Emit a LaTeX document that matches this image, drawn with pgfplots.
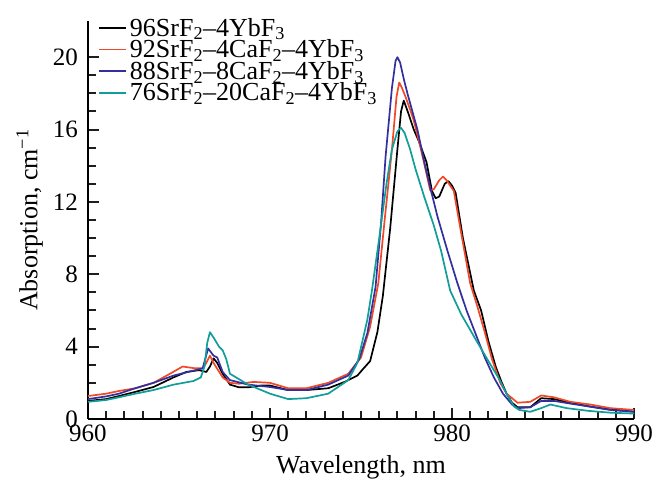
\documentclass[border=0pt]{standalone}
\usepackage{fontspec}
\setmainfont{Liberation Serif}
\usepackage{pgfplots}
\pgfplotsset{compat=1.18}
\definecolor{cred}{RGB}{240,72,40}
\definecolor{cblue}{RGB}{50,48,158}
\definecolor{cteal}{RGB}{18,158,152}
\definecolor{tk}{RGB}{30,30,30}
\begin{document}
\begin{tikzpicture}
\path (-88pt,-66pt) rectangle (567pt,419pt);
\begin{axis}[at={(0pt,0pt)}, anchor=south west, scale only axis, width=546pt, height=398pt,
  xmin=960, xmax=990, ymin=0, ymax=22,
  axis x line*=bottom, axis y line*=left,
  axis line style={-, line width=1.4pt},
  tick align=inside,
  xtick={960,970,980,990}, ytick={0,4,...,20},
  minor x tick num=9, minor y tick num=3,
  major tick length=11pt, minor tick length=8pt,
  tick style={line width=2pt, tk},
  xticklabel style={anchor=north, inner sep=0pt, yshift=-6pt, font=\fontsize{25}{25}\selectfont},
  yticklabel style={anchor=east, inner sep=0pt, xshift=-10pt, font=\fontsize{25}{25}\selectfont},
  xticklabels={960,970,980,990},
  yticklabels={0,4,8,12,16,20},
  xlabel={Wavelength, nm},
  ylabel={Absorption, cm\textsuperscript{−1}},
  label style={font=\fontsize{26}{26}\selectfont},
  xlabel style={at={(axis description cs:0.5,-0.138)}, anchor=base},
  ylabel style={at={(axis description cs:-0.0925,0.5)}, anchor=base},
  legend style={at={(axis description cs:0.0183,1.0075)}, anchor=north west,
    draw=none, fill=none, inner sep=0pt, row sep=2pt,
    font=\fontsize{26}{26}\selectfont,
    nodes={inner sep=0pt},
    /tikz/every odd column/.append style={column sep=3pt}},
  legend cell align=left,
  legend image code/.code={\draw[#1, line width=1.8pt] (0pt,0pt) -- (27pt,0pt);},
]
\addplot[black, line width=1.7pt, line join=round] coordinates {
(960,1.0)(961,1.1)(961.7,1.27)(962.6,1.5)(963.6,1.77)(964.7,2.3)(965.4,2.6)(966.1,2.7)(966.5,2.6)(966.7,2.9)(966.9,3.35)(967.1,3.1)(967.4,2.5)(967.8,1.9)(968.3,1.75)(968.8,1.75)(969.5,1.85)(970,1.85)(971,1.6)(972,1.6)(973.2,1.7)(974.1,2.05)(974.8,2.4)(975.1,2.75)(975.5,3.2)(975.9,4.8)(976.2,6.8)(976.6,10.5)(977.0,14.9)(977.2,17.0)(977.35,17.6)(977.6,16.9)(977.9,16.0)(978.2,15.3)(978.6,14.2)(978.9,12.6)(979.1,12.2)(979.3,12.3)(979.6,13.0)(979.8,13.15)(980.0,12.9)(980.2,12.5)(980.6,10.0)(981.2,7.1)(981.6,6.0)(982.0,4.3)(982.4,2.9)(982.7,2.1)(983.0,1.4)(983.3,0.9)(983.6,0.65)(984.3,0.65)(984.9,1.15)(985.6,1.1)(986.5,0.9)(987.5,0.7)(988.5,0.55)(990,0.4)
};
\addlegendentry{\rule[-5.5pt]{0pt}{22.5pt}96SrF\textsubscript{2}--4YbF\textsubscript{3}}
\addplot[cred, line width=1.7pt, line join=round] coordinates {
(960,1.27)(961,1.4)(961.7,1.55)(962.6,1.7)(963.6,2.0)(964.5,2.5)(965.2,2.9)(965.9,2.8)(966.3,2.8)(966.5,3.1)(966.7,3.5)(966.9,3.1)(967.4,2.3)(967.8,2.0)(968.3,1.95)(969.1,2.05)(970,2.0)(971,1.7)(972,1.7)(973.2,2.0)(974.3,2.5)(975.0,3.4)(975.5,5.1)(975.95,7.5)(976.3,11)(976.7,14.9)(976.95,17.8)(977.1,18.6)(977.25,18.3)(977.45,17.8)(977.7,17.1)(977.9,16.5)(978.2,15.3)(978.5,14.0)(978.8,12.65)(979.0,12.7)(979.3,13.2)(979.5,13.4)(979.7,13.2)(980.1,12.6)(980.5,10.3)(981.0,7.5)(981.4,6.2)(981.8,4.8)(982.2,3.3)(982.65,2.0)(983.0,1.4)(983.6,0.9)(984.3,0.95)(984.9,1.3)(985.6,1.2)(986.5,0.95)(987.6,0.8)(988.7,0.6)(990,0.5)
};
\addlegendentry{\rule[-5.5pt]{0pt}{22.5pt}92SrF\textsubscript{2}--4CaF\textsubscript{2}--4YbF\textsubscript{3}}
\addplot[cblue, line width=1.7pt, line join=round] coordinates {
(960,1.1)(961,1.25)(961.7,1.4)(962.6,1.7)(963.6,2.0)(964.7,2.4)(965.9,2.7)(966.3,2.8)(966.6,3.9)(966.9,3.5)(967.1,3.4)(967.4,2.6)(967.8,2.15)(968.8,1.9)(970,1.77)(971,1.6)(972,1.6)(973.2,1.9)(974.3,2.4)(974.9,3.3)(975.35,4.75)(975.8,7.3)(976.1,10.8)(976.35,14.5)(976.7,18.3)(976.9,19.8)(977.0,20.0)(977.15,19.7)(977.35,18.8)(977.55,18.0)(978.1,16.0)(978.5,14.1)(978.85,12.6)(979.2,11.2)(979.75,9.3)(980.3,7.5)(980.8,6.0)(981.3,4.7)(981.8,3.4)(982.3,2.3)(982.8,1.4)(983.3,0.8)(983.6,0.6)(984.3,0.65)(984.9,1.0)(985.6,1.0)(986.5,0.85)(987.5,0.7)(988.7,0.5)(990,0.4)
};
\addlegendentry{\rule[-5.5pt]{0pt}{22.5pt}88SrF\textsubscript{2}--8CaF\textsubscript{2}--4YbF\textsubscript{3}}
\addplot[cteal, line width=1.7pt, line join=round] coordinates {
(960,0.95)(961,1.05)(961.7,1.2)(962.6,1.4)(963.6,1.6)(964.7,1.9)(965.8,2.1)(966.2,2.3)(966.4,2.9)(966.55,4.2)(966.7,4.8)(966.9,4.5)(967.2,4.0)(967.4,3.8)(967.6,3.3)(967.8,2.5)(968.8,1.9)(970,1.4)(971,1.1)(972,1.15)(973.2,1.4)(974.3,2.15)(974.8,3.1)(975.1,4.4)(975.35,5.5)(975.6,7.1)(976.0,10)(976.4,13)(976.7,14.9)(977.0,15.9)(977.2,16.1)(977.4,15.8)(977.7,14.9)(978.0,13.8)(978.5,12.2)(979.0,10.7)(979.4,9.3)(979.9,7.1)(980.5,5.8)(981.3,4.4)(982.0,3.2)(982.6,2.2)(983.0,1.4)(983.4,0.7)(983.7,0.5)(984.3,0.4)(984.9,0.6)(985.4,0.8)(986.3,0.6)(987.5,0.45)(988.7,0.35)(990,0.3)
};
\addlegendentry{\rule[-5.5pt]{0pt}{22.5pt}76SrF\textsubscript{2}--20CaF\textsubscript{2}--4YbF\textsubscript{3}}
\end{axis}
\end{tikzpicture}
\end{document}
